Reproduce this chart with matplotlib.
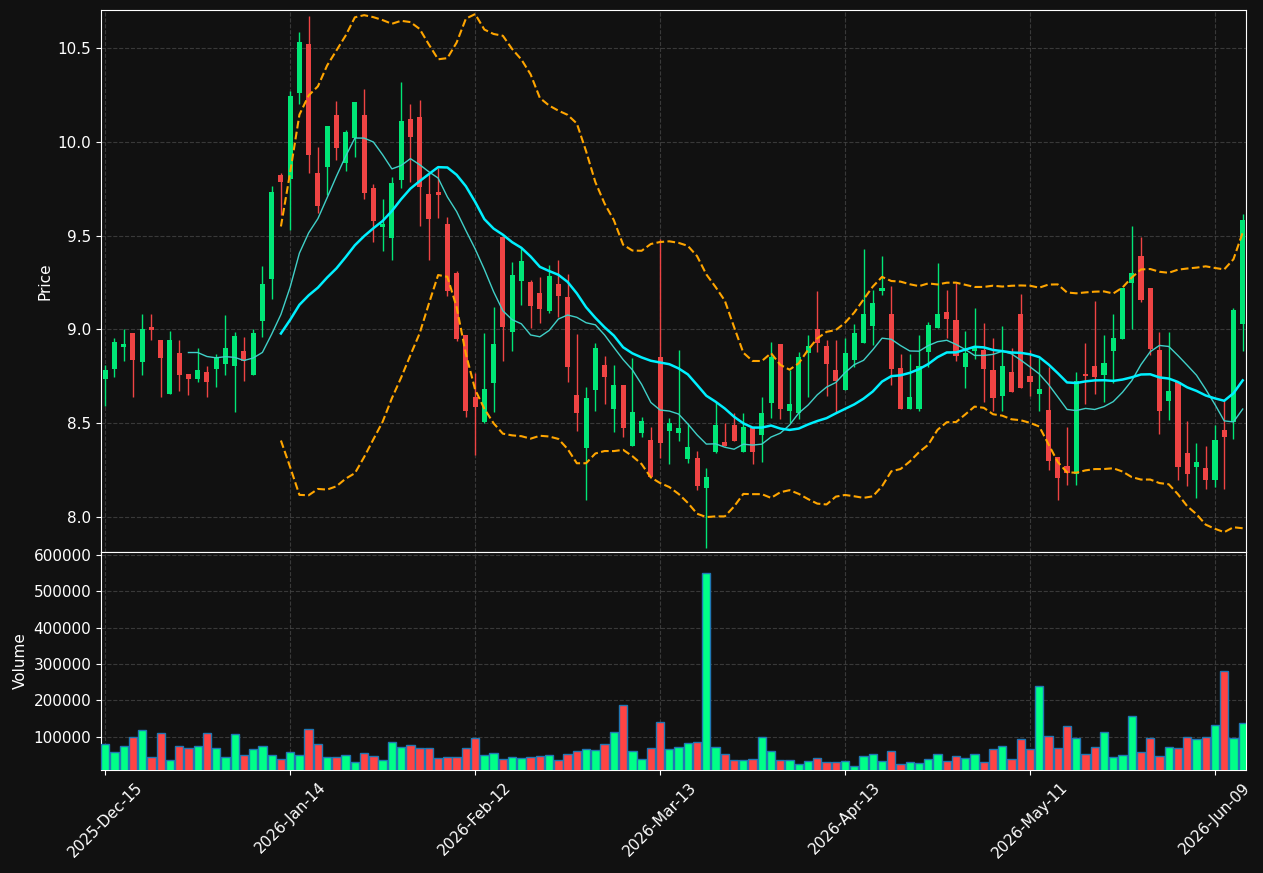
import numpy as np
import pandas as pd
import matplotlib
matplotlib.use("Agg")
import matplotlib.pyplot as plt

# daily OHLC (NYSE trading days)
holidays = ["2025-12-25", "2026-01-01", "2026-01-19", "2026-02-16", "2026-04-03", "2026-05-25"]
dates = pd.bdate_range("2025-12-15", periods=124, freq="C", holidays=holidays)

opens = [8.737, 8.791, 8.908, 8.981, 8.828, 9.013, 8.943, 8.657, 8.874, 8.762,
         8.737, 8.773, 8.791, 8.817, 8.807, 8.887, 8.759, 9.047, 9.271, 9.823,
         9.800, 10.258, 10.521, 9.834, 9.868, 10.143, 9.889, 10.019, 10.143, 9.754,
         9.548, 9.489, 9.798, 10.122, 10.132, 9.722, 9.732, 9.562, 9.301, 8.970,
         8.638, 8.508, 8.713, 9.491, 8.988, 9.260, 9.253, 9.194, 9.100, 9.242,
         9.173, 8.650, 8.370, 8.677, 8.810, 8.577, 8.704, 8.380, 8.450, 8.410,
         8.853, 8.459, 8.450, 8.309, 8.315, 8.156, 8.348, 8.400, 8.489, 8.348,
         8.474, 8.439, 8.610, 8.922, 8.567, 8.556, 8.872, 9.002, 8.912, 8.784,
         8.679, 8.839, 8.929, 9.020, 9.207, 9.082, 8.794, 8.578, 8.578, 8.881,
         9.009, 9.093, 9.050, 8.801, 8.887, 8.890, 8.784, 8.647, 8.773, 9.082,
         8.752, 8.657, 8.570, 8.318, 8.270, 8.231, 8.760, 8.805, 8.757, 8.887,
         8.951, 9.249, 9.391, 9.221, 8.890, 8.620, 8.721, 8.339, 8.268, 8.261,
         8.199, 8.464, 8.508, 9.029]
highs = [8.808, 8.952, 9.000, 8.981, 9.080, 9.080, 8.943, 8.991, 8.943, 8.762,
         8.899, 8.803, 8.867, 9.077, 8.986, 8.958, 9.000, 9.338, 9.764, 9.832,
         10.269, 10.584, 10.671, 9.972, 10.084, 10.218, 10.063, 10.212, 10.280, 9.775,
         9.693, 9.811, 10.317, 10.200, 10.221, 9.832, 9.859, 9.601, 9.310, 8.970,
         8.769, 8.979, 9.121, 9.491, 9.361, 9.432, 9.263, 9.278, 9.342, 9.370,
         9.295, 8.974, 8.695, 8.926, 8.858, 8.809, 8.704, 8.849, 8.531, 8.478,
         9.482, 8.526, 8.890, 8.499, 8.352, 8.260, 8.615, 8.499, 8.556, 8.556,
         8.474, 8.641, 8.931, 8.922, 8.784, 8.881, 8.969, 9.205, 8.942, 8.942,
         8.952, 9.027, 9.430, 9.208, 9.390, 9.231, 8.871, 8.871, 8.968, 9.038,
         9.354, 9.209, 9.246, 8.990, 9.112, 9.032, 8.952, 9.016, 8.899, 9.187,
         8.888, 8.848, 8.801, 8.318, 8.482, 8.775, 8.929, 9.150, 8.968, 9.080,
         9.221, 9.549, 9.491, 9.221, 8.988, 8.988, 8.721, 8.510, 8.393, 8.377,
         8.489, 8.624, 9.112, 9.615]
lows = [8.592, 8.745, 8.830, 8.638, 8.759, 8.942, 8.638, 8.657, 8.670, 8.649,
        8.721, 8.638, 8.691, 8.757, 8.558, 8.723, 8.759, 8.961, 9.164, 9.610,
        9.530, 10.200, 9.832, 9.619, 9.716, 9.903, 9.846, 9.921, 9.697, 9.468,
        9.418, 9.370, 9.756, 9.788, 9.551, 9.370, 9.592, 9.178, 8.938, 8.531,
        8.330, 8.499, 8.558, 8.832, 8.885, 9.130, 9.006, 9.032, 9.089, 9.064,
        8.721, 8.460, 8.090, 8.567, 8.602, 8.451, 8.428, 8.380, 8.428, 8.212,
        8.316, 8.281, 8.407, 8.286, 8.144, 7.833, 8.339, 8.379, 8.407, 8.348,
        8.281, 8.295, 8.530, 8.521, 8.499, 8.521, 8.640, 8.881, 8.647, 8.562,
        8.679, 8.801, 8.929, 8.919, 9.182, 8.702, 8.578, 8.578, 8.567, 8.801,
        9.009, 8.952, 8.833, 8.689, 8.840, 8.615, 8.567, 8.567, 8.668, 8.689,
        8.647, 8.567, 8.249, 8.089, 8.169, 8.169, 8.602, 8.654, 8.615, 8.713,
        8.951, 9.002, 9.148, 8.862, 8.441, 8.517, 8.196, 8.165, 8.100, 8.151,
        8.158, 8.151, 8.414, 8.887]
closes = [8.784, 8.933, 8.922, 8.839, 9.002, 8.999, 8.849, 8.943, 8.759, 8.737,
          8.784, 8.721, 8.851, 8.901, 8.965, 8.832, 8.981, 9.242, 9.732, 9.788,
          10.244, 10.532, 9.931, 9.660, 10.084, 9.969, 10.052, 10.212, 9.729, 9.580,
          9.562, 9.780, 10.111, 10.027, 9.761, 9.590, 9.718, 9.207, 8.949, 8.567,
          8.585, 8.682, 8.922, 9.011, 9.290, 9.366, 9.125, 9.109, 9.285, 9.178,
          8.801, 8.556, 8.634, 8.901, 8.748, 8.704, 8.476, 8.560, 8.513, 8.212,
          8.396, 8.503, 8.474, 8.373, 8.165, 8.213, 8.489, 8.379, 8.407, 8.480,
          8.348, 8.554, 8.853, 8.578, 8.602, 8.851, 8.912, 8.929, 8.817, 8.725,
          8.874, 8.981, 9.082, 9.141, 9.221, 8.791, 8.578, 8.640, 8.805, 9.023,
          9.082, 9.057, 8.860, 8.874, 8.903, 8.789, 8.636, 8.805, 8.668, 8.689,
          8.721, 8.682, 8.300, 8.210, 8.233, 8.727, 8.752, 8.748, 8.821, 8.954,
          9.221, 9.299, 9.159, 8.897, 8.567, 8.672, 8.268, 8.231, 8.291, 8.199,
          8.411, 8.428, 9.103, 9.583]
volumes = [79000, 57000, 73500, 98200, 117500, 43200, 109200, 35000, 73500, 68000,
           73500, 109200, 68000, 43200, 106500, 48700, 65200, 73500, 48700, 37700,
           57000, 48700, 120200, 79000, 43200, 43200, 48700, 29400, 54200, 46000,
           35000, 84500, 70700, 76200, 68000, 68000, 40400, 43200, 43200, 68000,
           95500, 48700, 54200, 37700, 43200, 40400, 43200, 46000, 48700, 35000,
           51400, 59700, 65200, 62400, 79000, 112000, 186200, 59700, 37700, 68000,
           139500, 65200, 70700, 81700, 84500, 549400, 70700, 51400, 35000, 35000,
           37700, 98200, 59700, 35000, 35000, 23900, 32200, 40400, 29400, 29400,
           32200, 18400, 46000, 51400, 32200, 59700, 23900, 29400, 26700, 37700,
           51400, 32200, 46000, 40400, 51400, 29400, 65200, 73500, 37700, 92700,
           65200, 238500, 101000, 68000, 128500, 95500, 51400, 70700, 112000, 43200,
           48700, 156000, 57000, 95500, 46000, 70700, 68000, 98200, 92700, 98200,
           131200, 279800, 95500, 136700]

o = np.array(opens)
h = np.array(highs)
l = np.array(lows)
c = np.array(closes)
v = np.array(volumes)
x = np.arange(len(c))
up = c >= o

close_s = pd.Series(c)
ma10 = close_s.rolling(10).mean()
ma20 = close_s.rolling(20).mean()
std20 = close_s.rolling(20).std(ddof=0)
bb_up = ma20 + 2 * std20
bb_lo = ma20 - 2 * std20

bg = "#111111"
fig = plt.figure(figsize=(12.63, 8.73), dpi=100, facecolor=bg)
ax = fig.add_axes([0.080, 0.3677, 0.9065, 0.6208])
axv = fig.add_axes([0.080, 0.118, 0.9065, 0.2497], sharex=ax)

candle_up = "#00e676"
candle_dn = "#ef4444"
col = np.where(up, candle_up, candle_dn)

ax.vlines(x, l, h, colors=col, linewidth=1, zorder=2)
body_lo = np.minimum(o, c)
body_h = np.maximum(np.abs(c - o), 0.006)
ax.bar(x, body_h, bottom=body_lo, width=0.55, color=col, linewidth=0, zorder=3)

ax.plot(x, ma10, color="#40d0c8", linewidth=1, zorder=4)
ax.plot(x, ma20, color="#00f0ff", linewidth=1.8, zorder=4)
ax.plot(x, bb_up, color="orange", linestyle="--", linewidth=1.5, zorder=4)
ax.plot(x, bb_lo, color="orange", linestyle="--", linewidth=1.5, zorder=4)

vcol = np.where(up, "#00ff88", "#ff4444")
axv.bar(x, v, width=0.9, color=vcol, edgecolor="#1f77b4", linewidth=1, zorder=3)

tick_idx = np.arange(0, len(x), 20)
tick_lab = [dates[i].strftime("%Y-%b-%d") for i in tick_idx]

for a in (ax, axv):
    a.set_facecolor(bg)
    for s in a.spines.values():
        s.set_color("white")
    a.tick_params(colors="white", labelsize=11)
    a.grid(True, color="#444444", linestyle="--", linewidth=0.8, alpha=0.8)
    a.set_axisbelow(True)

ax.set_xlim(-0.45, 123.35)
ax.set_ylim(7.813, 10.703)
ax.set_yticks([8.0, 8.5, 9.0, 9.5, 10.0, 10.5])
ax.set_ylabel("Price", color="white", fontsize=11)
ax.tick_params(axis="x", labelbottom=False)

axv.set_ylim(8000, 608000)
axv.set_yticks([100000, 200000, 300000, 400000, 500000, 600000])
axv.ticklabel_format(axis="y", style="plain")
axv.set_ylabel("Volume", color="white", fontsize=11)
axv.set_xticks(tick_idx)
axv.set_xticklabels(tick_lab, rotation=45)

fig.savefig("out.png", dpi=100, facecolor=bg)
